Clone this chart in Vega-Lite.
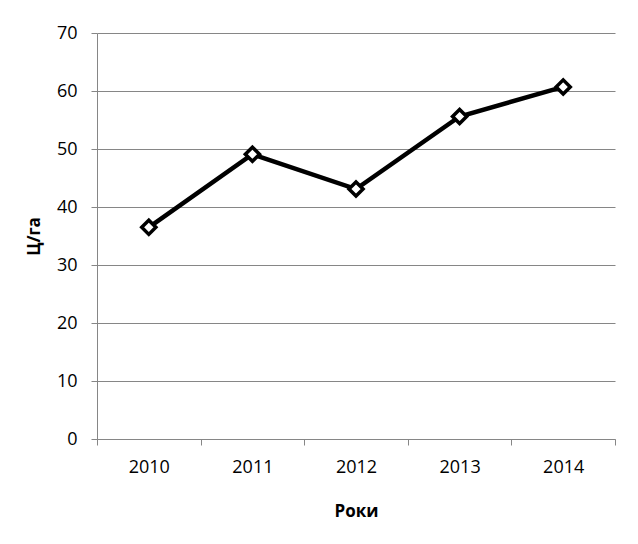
{
  "$schema": "https://vega.github.io/schema/vega-lite/v6.json",
  "width": 518,
  "height": 406,
  "autosize": {"type": "none"},
  "padding": {"left": 97, "top": 33, "right": 23, "bottom": 105},
  "background": "white",
  "config": {
    "view": {"stroke": null},
    "font": "Open Sans"
  },
  "data": {
    "values": [
      {"year": "2010", "value": 36.5},
      {"year": "2011", "value": 49.1},
      {"year": "2012", "value": 43.1},
      {"year": "2013", "value": 55.6},
      {"year": "2014", "value": 60.7}
    ]
  },
  "encoding": {
    "x": {
      "field": "year",
      "type": "ordinal",
      "scale": {"type": "band", "paddingInner": 0, "paddingOuter": 0},
      "axis": {
        "title": "Роки",
        "titleFont": "Open Sans",
        "titleFontSize": 17,
        "titleFontWeight": "bold",
        "titleColor": "black",
        "titlePadding": 27,
        "labelAngle": 0,
        "labelFontSize": 18,
        "labelColor": "black",
        "labelPadding": 13,
        "tickBand": "extent",
        "tickColor": "#868686",
        "tickSize": 6,
        "domainColor": "#868686",
        "grid": false
      }
    },
    "y": {
      "field": "value",
      "type": "quantitative",
      "scale": {"domain": [0, 70], "nice": false},
      "axis": {
        "title": "Ц/га",
        "titleFontSize": 17,
        "titleFontWeight": "bold",
        "titleColor": "black",
        "titlePadding": 13,
        "values": [0, 10, 20, 30, 40, 50, 60, 70],
        "labelFontSize": 18,
        "labelColor": "black",
        "labelPadding": 14,
        "tickColor": "#868686",
        "tickSize": 6,
        "domainColor": "#868686",
        "gridColor": "#868686",
        "gridWidth": 1
      }
    }
  },
  "layer": [
    {"mark": {"type": "line", "color": "black", "strokeWidth": 4.5}},
    {"mark": {"type": "point", "shape": "diamond", "filled": true, "fill": "white", "stroke": "black", "strokeWidth": 3.5, "size": 200, "opacity": 1}}
  ]
}
